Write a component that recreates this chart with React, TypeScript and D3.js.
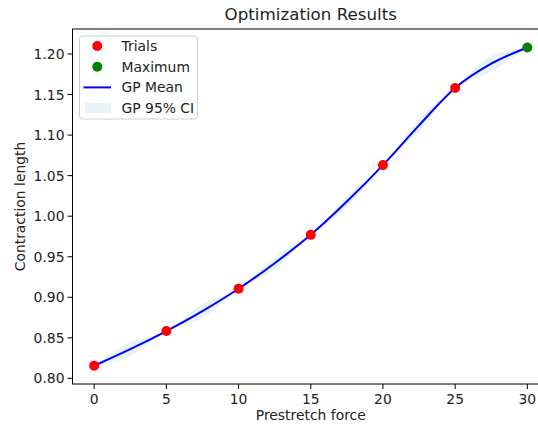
import React, { useEffect, useRef } from 'react';
import * as d3 from 'd3';

// trials evaluated by the optimizer
const trialForce = [0, 5, 10, 15, 20, 25];
const trialLength = [0.8156, 0.8584, 0.9105, 0.977, 1.063, 1.158];

// best point
const maxForce = [30];
const maxLength = [1.208];

// GP posterior sampled on a grid
const gpForce = [0, 2.5, 5, 7.5, 10, 12.5, 15, 17.5, 20, 22.5, 25, 27.5, 30];
const gpMean = [0.8156, 0.836, 0.8584, 0.883, 0.9105, 0.942, 0.977, 1.018, 1.063, 1.112, 1.158, 1.188, 1.208];
const gpHalfWidth = [0, 0.0085, 0, 0.0085, 0, 0.0075, 0, 0.007, 0, 0.0075, 0, 0.0095, 0];

const xTicks = [0, 5, 10, 15, 20, 25, 30];
const yTicks = [0.8, 0.85, 0.9, 0.95, 1.0, 1.05, 1.1, 1.15, 1.2];

const legendItems = ['Trials', 'Maximum', 'GP Mean', 'GP 95% CI'];

const App = () => {
  const svgRef = useRef<SVGSVGElement | null>(null);

  useEffect(() => {
    if (!svgRef.current) return;
    d3.select(svgRef.current).selectAll('*').remove();

    const width = 538;
    const height = 425;
    const margin = { top: 29, right: -11, bottom: 41, left: 72.5 };
    const font = 'DejaVu Sans, sans-serif';

    const svg = d3.select(svgRef.current)
      .attr('width', width)
      .attr('height', height)
      .style('background', '#fff');

    const x = d3.scaleLinear()
      .domain([-1.5, 31.5])
      .range([margin.left, width - margin.right]);

    const y = d3.scaleLinear()
      .domain([0.7931, 1.2308])
      .range([height - margin.bottom, margin.top]);

    const gp = gpForce.map((f, i) => ({ f, m: gpMean[i], h: gpHalfWidth[i] }));

    // CI band
    const band = d3.area<any>()
      .x(d => x(d.f))
      .y0(d => y(d.m - d.h))
      .y1(d => y(d.m + d.h))
      .curve(d3.curveCatmullRom);

    svg.append('path')
      .datum(gp)
      .attr('d', band)
      .attr('fill', '#add8e6')
      .attr('fill-opacity', 0.3);

    // GP mean
    const line = d3.line<any>()
      .x(d => x(d.f))
      .y(d => y(d.m))
      .curve(d3.curveMonotoneX);

    svg.append('path')
      .datum(gp)
      .attr('d', line)
      .attr('fill', 'none')
      .attr('stroke', 'blue')
      .attr('stroke-width', 2);

    // trial points
    trialForce.forEach((f, i) => {
      svg.append('circle')
        .attr('cx', x(f))
        .attr('cy', y(trialLength[i]))
        .attr('r', 5)
        .attr('fill', 'red');
    });

    maxForce.forEach((f, i) => {
      svg.append('circle')
        .attr('cx', x(f))
        .attr('cy', y(maxLength[i]))
        .attr('r', 5)
        .attr('fill', 'green');
    });

    // spines
    const x0 = margin.left;
    const x1 = width - margin.right;
    const yTop = margin.top;
    const yBot = height - margin.bottom;
    svg.append('rect')
      .attr('x', x0)
      .attr('y', yTop)
      .attr('width', x1 - x0)
      .attr('height', yBot - yTop)
      .attr('fill', 'none')
      .attr('stroke', 'black')
      .attr('stroke-width', 1);

    // x ticks
    xTicks.forEach(t => {
      svg.append('line')
        .attr('x1', x(t)).attr('x2', x(t))
        .attr('y1', yBot).attr('y2', yBot + 5)
        .attr('stroke', 'black');
      svg.append('text')
        .attr('x', x(t))
        .attr('y', yBot + 19.5)
        .attr('text-anchor', 'middle')
        .attr('font-family', font)
        .attr('font-size', '13.9px')
        .attr('fill', '#222')
        .text(t);
    });

    // y ticks
    yTicks.forEach(t => {
      svg.append('line')
        .attr('x1', x0 - 5).attr('x2', x0)
        .attr('y1', y(t)).attr('y2', y(t))
        .attr('stroke', 'black');
      svg.append('text')
        .attr('x', x0 - 8)
        .attr('y', y(t) + 5)
        .attr('text-anchor', 'end')
        .attr('font-family', font)
        .attr('font-size', '13.9px')
        .attr('fill', '#222')
        .text(d3.format('.2f')(t));
    });

    // axis labels
    svg.append('text')
      .attr('x', (x0 + x1) / 2)
      .attr('y', 420)
      .attr('text-anchor', 'middle')
      .attr('font-family', font)
      .attr('font-size', '13.9px')
      .attr('fill', '#222')
      .text('Prestretch force');

    svg.append('text')
      .attr('transform', `translate(25, ${(yTop + yBot) / 2}) rotate(-90)`)
      .attr('text-anchor', 'middle')
      .attr('font-family', font)
      .attr('font-size', '13.9px')
      .attr('fill', '#222')
      .text('Contraction length');

    // title
    svg.append('text')
      .attr('x', (x0 + x1) / 2)
      .attr('y', 20)
      .attr('text-anchor', 'middle')
      .attr('font-family', font)
      .attr('font-size', '16.7px')
      .attr('fill', '#222')
      .text('Optimization Results');

    // legend
    const lg = svg.append('g');
    lg.append('rect')
      .attr('x', 79.5).attr('y', 36)
      .attr('width', 118).attr('height', 83)
      .attr('rx', 3)
      .attr('fill', 'white')
      .attr('fill-opacity', 0.8)
      .attr('stroke', '#d0d0d0');

    legendItems.forEach((label, i) => {
      const cy = 46 + i * 20.7;
      if (i === 0 || i === 1) {
        lg.append('circle')
          .attr('cx', 97.3).attr('cy', cy)
          .attr('r', 5)
          .attr('fill', i === 0 ? 'red' : 'green');
      } else if (i === 2) {
        lg.append('line')
          .attr('x1', 83.5).attr('x2', 111)
          .attr('y1', cy).attr('y2', cy)
          .attr('stroke', 'blue')
          .attr('stroke-width', 2);
      } else {
        lg.append('rect')
          .attr('x', 85).attr('y', cy - 5)
          .attr('width', 26).attr('height', 10)
          .attr('fill', '#add8e6')
          .attr('fill-opacity', 0.3);
      }
      lg.append('text')
        .attr('x', 121.5)
        .attr('y', cy + 5)
        .attr('font-family', font)
        .attr('font-size', '13.9px')
        .attr('fill', '#222')
        .text(label);
    });
  }, []);

  return (
    <div style={{ position: 'absolute', left: 0, top: 0 }}>
      <svg ref={svgRef}></svg>
    </div>
  );
};

export default App;
